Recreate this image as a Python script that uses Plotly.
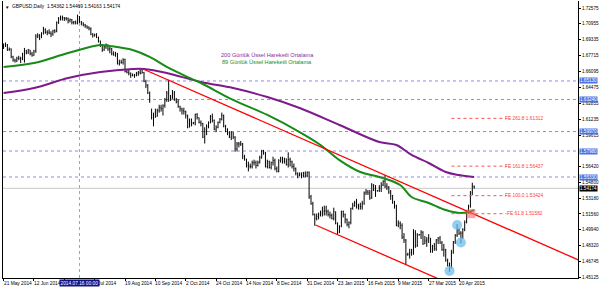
import plotly.graph_objects as go

# ---------------- DATA (prices in pips above 1.0000: 6870 -> 1.6870) ----------------
closes = [
    6870, 6880, 6830, 6840, 6760, 6725, 6720, 6745, 6745, 6740,
    6790, 6820, 6800, 6830, 6790, 6775, 6820, 6970, 6980, 6970,
    6990, 7040, 7010, 7010, 7000, 6990, 7025, 7020, 7110, 7150,
    7160, 7160, 7150, 7150, 7130, 7140, 7110, 7115, 7105, 7170,
    7115, 7105, 7085, 7075, 7060, 7045, 6990, 6980, 6990, 6960,
    6920, 6880, 6830, 6860, 6880, 6840, 6840, 6790, 6780, 6790,
    6690, 6700, 6700, 6730, 6610, 6600, 6590, 6570, 6570, 6570,
    6590, 6600, 6590, 6600, 6510, 6470, 6390, 6320, 6140, 6140,
    6150, 6210, 6240, 6230, 6260, 6320, 6390, 6320, 6350, 6380,
    6320, 6300, 6250, 6230, 6210, 6200, 6160, 6040, 6120, 6080,
    6085, 6170, 6140, 6090, 6080, 5940, 6000, 6050, 6090, 6150,
    6110, 6020, 6040, 6090, 6120, 6160, 6050, 6000, 5990, 5940,
    5985, 5940, 5820, 5870, 5870, 5870, 5740, 5710, 5650, 5640,
    5640, 5680, 5680, 5650, 5680, 5730, 5800, 5780, 5640, 5690,
    5630, 5680, 5700, 5620, 5590, 5700, 5720, 5690, 5720, 5660,
    5710, 5690, 5640, 5620, 5570, 5550, 5560, 5550, 5570, 5545,
    5580, 5330, 5260, 5150, 5110, 5130, 5150, 5160, 5180, 5190,
    5180, 5150, 5140, 5110, 5180, 5060, 4970, 5030, 5180, 5150,
    5100, 5050, 5070, 5210, 5240, 5270, 5230, 5240, 5230, 5260,
    5370, 5380, 5370, 5320, 5450, 5400, 5390, 5395, 5420, 5450,
    5490, 5440, 5430, 5380, 5340, 5270, 5240, 5040, 5060, 5040,
    4920, 4890, 4740, 4745, 4760, 4760, 4960, 4830, 4940, 4945,
    4970, 4850, 4880, 4890, 4910, 4770, 4830, 4800, 4890, 4910,
    4860, 4790, 4790, 4680, 4630, 4620, 4760, 4870, 4940, 4995,
    4960, 4960, 5000, 5070, 5170, 5230, 5370, 5436, 5417.4,
]
highs = [
    6895, 6905, 6890, 6855, 6845, 6770, 6740, 6760, 6770, 6760,
    6800, 6850, 6830, 6840, 6830, 6810, 6830, 6990, 7000, 6990,
    7010, 7065, 7050, 7030, 7040, 7020, 7035, 7040, 7120, 7165,
    7180, 7180, 7165, 7165, 7160, 7150, 7145, 7125, 7130, 7190,
    7175, 7125, 7110, 7095, 7080, 7070, 7060, 7000, 6995, 7000,
    6965, 6925, 6885, 6875, 6895, 6885, 6860, 6850, 6815, 6810,
    6800, 6730, 6730, 6745, 6740, 6630, 6635, 6600, 6590, 6585,
    6605, 6615, 6635, 6640, 6605, 6525, 6480, 6405, 6230, 6190,
    6230, 6230, 6270, 6270, 6275, 6340, 6410, 6525, 6370, 6420,
    6410, 6340, 6325, 6260, 6240, 6240, 6210, 6170, 6130, 6130,
    6095, 6180, 6185, 6140, 6110, 6085, 6040, 6070, 6100, 6165,
    6180, 6120, 6060, 6100, 6135, 6190, 6170, 6065, 6030, 6000,
    6000, 5990, 5950, 5890, 5890, 5900, 5880, 5760, 5720, 5690,
    5670, 5700, 5710, 5700, 5700, 5750, 5810, 5810, 5790, 5710,
    5700, 5690, 5740, 5720, 5640, 5715, 5740, 5740, 5730, 5720,
    5785, 5730, 5700, 5670, 5630, 5580, 5580, 5580, 5585, 5590,
    5590, 5590, 5350, 5280, 5160, 5160, 5170, 5190, 5230, 5240,
    5240, 5200, 5180, 5160, 5220, 5180, 5070, 5040, 5190, 5190,
    5160, 5110, 5080, 5220, 5270, 5290, 5310, 5260, 5270, 5290,
    5385, 5410, 5400, 5400, 5470, 5460, 5450, 5400, 5450, 5480,
    5500, 5552, 5470, 5440, 5400, 5350, 5290, 5250, 5090, 5080,
    5060, 4960, 4900, 4760, 4800, 4800, 5000, 4990, 4960, 4950,
    4990, 4980, 4930, 4920, 4950, 4910, 4840, 4860, 4900, 4920,
    4930, 4880, 4850, 4800, 4700, 4660, 4790, 4880, 4950, 5053,
    5010, 4980, 5010, 5090, 5190, 5250, 5390, 5475, 5446.9,
]
lows = [
    6840, 6860, 6820, 6820, 6745, 6710, 6700, 6705, 6725, 6695,
    6725, 6700, 6785, 6790, 6775, 6760, 6770, 6800, 6950, 6930,
    6950, 6990, 6995, 6980, 6990, 6960, 6975, 7000, 7010, 7095,
    7130, 7130, 7125, 7130, 7100, 7110, 7090, 7090, 7090, 7090,
    7105, 7080, 7070, 7055, 7045, 7030, 6980, 6955, 6965, 6950,
    6905, 6860, 6810, 6820, 6840, 6820, 6795, 6775, 6770, 6760,
    6680, 6670, 6690, 6680, 6600, 6590, 6570, 6545, 6560, 6545,
    6560, 6565, 6580, 6590, 6500, 6440, 6380, 6290, 6120, 6050,
    6140, 6150, 6190, 6200, 6160, 6240, 6300, 6300, 6310, 6330,
    6310, 6285, 6240, 6200, 6170, 6170, 6130, 6030, 6040, 6050,
    6070, 6060, 6120, 6080, 6050, 5930, 5875, 5960, 6030, 6080,
    6090, 6010, 5990, 6030, 6080, 6110, 6040, 5990, 5960, 5930,
    5910, 5920, 5790, 5795, 5835, 5850, 5715, 5700, 5630, 5590,
    5620, 5620, 5650, 5620, 5640, 5670, 5720, 5760, 5630, 5620,
    5620, 5610, 5650, 5600, 5580, 5580, 5680, 5670, 5670, 5650,
    5630, 5640, 5620, 5590, 5550, 5520, 5540, 5520, 5530, 5530,
    5530, 5310, 5250, 5140, 5035, 5090, 5100, 5130, 5130, 5140,
    5140, 5130, 5110, 5100, 5090, 5050, 4950, 4960, 5020, 5120,
    5060, 5030, 5010, 5050, 5200, 5230, 5210, 5200, 5200, 5200,
    5250, 5350, 5350, 5300, 5310, 5390, 5330, 5385, 5380, 5380,
    5440, 5420, 5400, 5360, 5300, 5260, 5210, 5030, 5020, 5000,
    4900, 4860, 4635, 4730, 4700, 4730, 4740, 4810, 4820, 4935,
    4900, 4840, 4850, 4820, 4860, 4760, 4760, 4780, 4780, 4850,
    4850, 4780, 4720, 4670, 4620, 4565, 4600, 4750, 4850, 4920,
    4940, 4855, 4900, 4980, 5060, 5160, 5220, 5350, 5416.3,
]
first_open = 6850
gap_opens = {78: 6225, 248: 5436.2}

# EMA lines (bar index, price)
ema200_idx = [0, 16, 34, 51, 68, 74, 86, 104, 121, 139, 156, 177, 198, 207, 215, 224, 233, 240, 248]
ema200_val = [1.6390, 1.6441, 1.6543, 1.6604, 1.6635, 1.6635, 1.6594, 1.6502, 1.6441, 1.6349,
              1.6237, 1.6064, 1.5890, 1.5860, 1.5758, 1.5676, 1.5584, 1.5553, 1.5533]
ema89_idx = [0, 16, 34, 51, 56, 68, 77, 86, 97, 104, 121, 139, 156, 167, 177, 188, 198, 209, 215,
             224, 233, 240, 245, 248]
ema89_val = [1.6656, 1.6696, 1.6798, 1.6880, 1.6870, 1.6829, 1.6758, 1.6656, 1.6553, 1.6492,
             1.6319, 1.6166, 1.5992, 1.5860, 1.5706, 1.5584, 1.5533, 1.5451, 1.5329, 1.5268,
             1.5196, 1.5166, 1.5176, 1.5196]

# channel lines (bar index, price)
upper_line_idx = [73.5, 303.0]
upper_line_val = [1.66351, 1.46861]
lower_line_idx = [164.4, 245.0]
lower_line_val = [1.50432, 1.43590]

# Fibonacci expansion
fe_labels = ["FE 261.8", "FE 161.8", "FE 100.0", "FE 61.8"]
fe_levels = [1.61312, 1.56437, 1.53424, 1.51582]
abc_idx = [235, 239, 241]
abc_val = [1.4575, 1.5043, 1.4865]
marker_idx = [246.3]
marker_val = [1.5158]

# horizontal levels with axis labels
hlines = [1.65130, 1.63240, 1.59970, 1.57980, 1.55330]
last_price = 1.54174

# axis tick labels (the 4 Jul label is hidden under the cursor label; 28 Jul shows only "Jul 2014")
x_tick_idx = [0, 16, 32, 48, 64, 80, 96, 112, 128, 144, 160, 176, 192, 208, 224, 240]
x_label_idx = [0, 16, 49.6, 64, 80, 96, 112, 128, 144, 160, 176, 192, 208, 224, 240]
x_label_text = ["21 May 2014", "12 Jun 2014", "Jul 2014", "19 Aug 2014",
                "10 Sep 2014", "2 Oct 2014", "24 Oct 2014", "14 Nov 2014", "8 Dec 2014",
                "31 Dec 2014", "23 Jan 2015", "16 Feb 2015", "9 Mar 2015", "27 Mar 2015",
                "20 Apr 2015"]
y_tick_vals = [1.72575, 1.70955, 1.69335, 1.67715, 1.66095, 1.64475, 1.62855, 1.61235,
               1.59615, 1.56420, 1.54800, 1.53180, 1.51560, 1.49940, 1.48320,
               1.46745, 1.45125]
cursor_idx = 40
cursor_text = "2014.07.16 00:00"
title_text = "GBPUSD,Daily  1.54362 1.54469 1.54163 1.54174"
legend_texts = ["200 Günlük Üssel Hareketli Ortalama", "89 Günlük Üssel Hareketli Ortalama"]

# ---------------- BUILD ----------------
def P(v):
    return 1 + v / 10000.0

idx = list(range(len(closes)))
opens = [first_open] + closes[:-1]
for k, v in gap_opens.items():
    opens[k] = v

FONT = "Liberation Sans"
fig = go.Figure()

fig.add_trace(go.Ohlc(
    x=idx, open=[P(v) for v in opens], high=[P(v) for v in highs],
    low=[P(v) for v in lows], close=[P(v) for v in closes],
    increasing=dict(line=dict(color="#000000", width=1)),
    decreasing=dict(line=dict(color="#000000", width=1)),
    tickwidth=0.25, hoverinfo="skip", showlegend=False))

fig.add_trace(go.Scatter(x=ema200_idx, y=ema200_val, mode="lines",
                         line=dict(color="#7d1a8c", width=2, shape="spline", smoothing=1.0),
                         showlegend=False, hoverinfo="skip"))
fig.add_trace(go.Scatter(x=ema89_idx, y=ema89_val, mode="lines",
                         line=dict(color="#168c16", width=2, shape="spline", smoothing=1.0),
                         showlegend=False, hoverinfo="skip"))
fig.add_trace(go.Scatter(x=upper_line_idx, y=upper_line_val, mode="lines",
                         line=dict(color="#ff0000", width=1.3), showlegend=False, hoverinfo="skip"))
fig.add_trace(go.Scatter(x=lower_line_idx, y=lower_line_val, mode="lines",
                         line=dict(color="#ff0000", width=1.3), showlegend=False, hoverinfo="skip"))

# FE dotted levels
for lab, lv in zip(fe_labels, fe_levels):
    fig.add_shape(type="line", x0=236, x1=265, y0=lv, y1=lv, xref="x", yref="y",
                  line=dict(color="#ff5050", width=1, dash="dot"))
    fig.add_annotation(x=285.5, y=lv, xref="x", yref="y", text=f"{lab} {lv:.5f}",
                       showarrow=False, xanchor="right", yanchor="middle",
                       font=dict(family=FONT, size=4.8, color="#ff4040"))

fig.add_trace(go.Scatter(x=abc_idx, y=abc_val, mode="markers",
                         marker=dict(color="rgba(110,190,235,0.75)", size=10, line=dict(width=0)),
                         showlegend=False, hoverinfo="skip"))
fig.add_trace(go.Scatter(x=marker_idx, y=marker_val, mode="markers",
                         marker=dict(color="rgba(240,110,110,0.6)", size=9, symbol="square",
                                     line=dict(width=0)),
                         showlegend=False, hoverinfo="skip"))

# horizontal dashed levels
for h in hlines:
    fig.add_shape(type="line", x0=0, x1=1, xref="paper", y0=h, y1=h, yref="y",
                  line=dict(color="#8c8ce6", width=1, dash="dot"), layer="below")
    fig.add_annotation(x=1, xref="paper", y=h, yref="y", text=f"{h:.5f}", showarrow=False,
                       xanchor="left", xshift=1, bgcolor="#4a72e0", borderpad=0,
                       font=dict(family=FONT, size=4.6, color="#ffffff"))

# current price line
fig.add_shape(type="line", x0=0, x1=1, xref="paper", y0=last_price, y1=last_price, yref="y",
              line=dict(color="#c8c8c8", width=1), layer="below")
fig.add_annotation(x=1, xref="paper", y=last_price, yref="y", text=f"{last_price:.5f}",
                   showarrow=False, xanchor="left", xshift=1, bgcolor="#000000", borderpad=0,
                   font=dict(family=FONT, size=4.6, color="#ffffff"))

# cursor vertical line
fig.add_shape(type="line", x0=cursor_idx, x1=cursor_idx, xref="x", y0=0, y1=1, yref="paper",
              line=dict(color="#9c9ce6", width=1, dash="dot"), layer="below")

# x labels (left aligned, MT4 style)
for xi, tx in zip(x_label_idx, x_label_text):
    fig.add_annotation(x=xi, xref="x", y=0, yref="paper", text=tx, showarrow=False,
                       xanchor="left", yanchor="top", xshift=-2, yshift=-1,
                       font=dict(family=FONT, size=4.8, color="#000000"))
fig.add_annotation(x=cursor_idx, xref="x", y=0, yref="paper", text=cursor_text, showarrow=False,
                   xanchor="center", yanchor="top", yshift=-1, bgcolor="#14148c", borderpad=0.5,
                   font=dict(family=FONT, size=4.8, color="#ffffff"))

# title
fig.add_annotation(x=0, xref="paper", y=1, yref="paper", text="▼", showarrow=False,
                   xanchor="left", yanchor="top", xshift=0, yshift=-2,
                   font=dict(family=FONT, size=4.5, color="#000000"))
fig.add_annotation(x=0, xref="paper", y=1, yref="paper", text=title_text, showarrow=False,
                   xanchor="left", yanchor="top", xshift=7, yshift=-1,
                   font=dict(family=FONT, size=4.8, color="#000000"))

# legend texts
fig.add_annotation(x=139, xref="x", y=1.6781, yref="y", text=legend_texts[0], showarrow=False,
                   font=dict(family=FONT, size=5.6, color="#8a2aa0"))
fig.add_annotation(x=139, xref="x", y=1.6710, yref="y", text=legend_texts[1], showarrow=False,
                   font=dict(family=FONT, size=5.6, color="#1a8c1a"))

fig.update_layout(
    width=600, height=288, margin=dict(l=3, r=20, t=1, b=10),
    paper_bgcolor="#ffffff", plot_bgcolor="#ffffff",
    xaxis=dict(range=[-0.3, 302.7], showgrid=False, zeroline=False, showline=True,
               linecolor="#000000", linewidth=1, tickvals=x_tick_idx,
               ticktext=[""] * len(x_tick_idx),
               ticks="outside", ticklen=2, tickcolor="#000000", rangeslider=dict(visible=False),
               fixedrange=True),
    yaxis=dict(range=[1.45024, 1.73289], side="right", showgrid=False, zeroline=False,
               showline=True, mirror=True, linecolor="#000000", linewidth=1,
               tickvals=y_tick_vals, ticktext=[f"{v:.5f}" for v in y_tick_vals],
               ticks="outside", ticklen=2, tickcolor="#000000",
               tickfont=dict(family=FONT, size=4.6, color="#000000"), fixedrange=True),
    showlegend=False,
)

fig.write_html("out.html")
